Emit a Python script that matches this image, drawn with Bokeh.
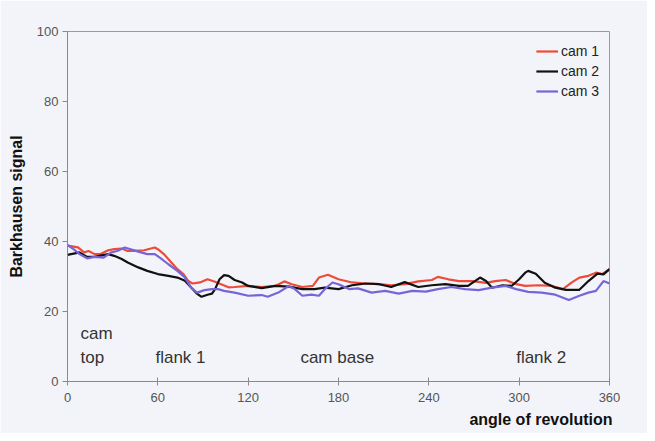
from bokeh.plotting import figure
from bokeh.models import Label, Range1d, FixedTicker, Legend, LegendItem, Title
from bokeh.embed import file_html
from bokeh.resources import INLINE

# ---- data ----
cam1_angle = [0, 7, 11, 14, 18, 22, 27, 31, 36, 40, 44, 51, 58, 60, 64, 69, 73, 77, 80, 83, 88, 93, 98, 102,
              107, 111, 120, 129, 138, 144, 149, 156, 163, 167, 173, 180, 189, 198, 207, 215, 224, 233, 242,
              246, 253, 260, 269, 278, 284, 291, 298, 304, 313, 322, 329, 335, 340, 346, 351, 355, 360]
cam1_value = [38.8, 38.3, 36.9, 37.3, 36.4, 36.4, 37.5, 37.8, 38.0, 37.3, 37.3, 37.5, 38.3, 37.8, 36.4, 34.0,
              32.1, 30.7, 28.8, 28.0, 28.3, 29.2, 28.5, 27.8, 26.9, 27.0, 27.3, 27.0, 27.3, 28.6, 27.8, 27.0,
              27.3, 29.7, 30.5, 29.2, 28.3, 28.0, 27.8, 27.5, 27.8, 28.6, 29.0, 29.9, 29.2, 28.7, 28.7, 28.2,
              28.7, 29.0, 27.8, 27.3, 27.5, 27.3, 26.4, 28.3, 29.7, 30.2, 31.1, 30.7, 32.1]

cam2_angle = [0, 8, 13, 18, 27, 31, 36, 40, 47, 53, 60, 67, 73, 78, 82, 86, 89, 93, 96, 98, 101, 104, 107,
              111, 116, 120, 129, 138, 147, 156, 164, 171, 180, 189, 198, 207, 215, 224, 233, 242, 251, 260,
              266, 274, 278, 282, 289, 295, 300, 304, 306, 311, 317, 324, 331, 340, 346, 352, 356, 360]
cam2_value = [36.2, 36.9, 35.6, 35.6, 36.4, 35.9, 35.0, 34.0, 32.6, 31.6, 30.7, 30.2, 29.7, 28.8, 26.9, 25.1,
              24.2, 24.8, 25.1, 26.4, 29.2, 30.4, 30.2, 29.0, 28.3, 27.3, 26.7, 27.3, 27.1, 26.4, 26.4, 26.8,
              26.4, 27.5, 28.0, 27.8, 27.0, 28.4, 27.0, 27.5, 27.8, 27.3, 27.3, 29.7, 28.7, 26.8, 27.5, 27.3,
              29.2, 31.1, 31.6, 30.8, 28.2, 26.8, 26.2, 26.2, 28.7, 30.8, 30.6, 32.1]

cam3_angle = [0, 4, 8, 13, 18, 24, 29, 33, 38, 42, 47, 53, 58, 62, 67, 73, 78, 82, 86, 91, 96, 100, 104,
              111, 120, 129, 133, 140, 147, 151, 156, 162, 167, 171, 176, 180, 187, 193, 202, 211, 220, 229,
              238, 246, 255, 264, 273, 282, 291, 298, 306, 315, 324, 333, 340, 346, 351, 356, 360]
cam3_value = [39.0, 37.8, 36.4, 35.2, 35.6, 35.4, 36.9, 37.3, 38.3, 37.8, 37.1, 36.4, 36.4, 35.2, 33.5, 31.6,
              29.7, 26.9, 25.4, 26.1, 26.4, 26.4, 25.9, 25.4, 24.5, 24.7, 24.2, 25.4, 27.3, 26.4, 24.5, 24.8,
              24.5, 26.4, 28.3, 27.8, 26.4, 26.6, 25.4, 25.9, 25.1, 25.9, 25.7, 26.4, 27.0, 26.4, 26.1, 26.8,
              27.3, 26.4, 25.6, 25.4, 24.8, 23.3, 24.5, 25.4, 25.9, 28.7, 28.0]

series_names = ["cam 1", "cam 2", "cam 3"]
x_ticks = [0, 60, 120, 180, 240, 300, 360]
y_ticks = [0, 20, 40, 60, 80, 100]

BG = "#f3f4f9"
FONT = "Liberation Sans"

p = figure(width=647, height=433, output_backend="svg", toolbar_location=None,
           x_range=Range1d(0, 360), y_range=Range1d(0, 100),
           min_border_left=67, min_border_right=38, min_border_top=31, min_border_bottom=52,
           background_fill_color=BG, border_fill_color=BG)
p.outline_line_color = "#9a9a9a"
p.xgrid.visible = False
p.ygrid.visible = False

for ax in (p.xaxis[0], p.yaxis[0]):
    ax.axis_line_color = "#8a8a8a"
    ax.major_tick_line_color = "#8a8a8a"
    ax.minor_tick_line_color = None
    ax.major_label_text_font = FONT
    ax.major_label_text_font_size = "13px"
    ax.major_label_text_color = "#555555"

p.xaxis.ticker = FixedTicker(ticks=x_ticks)
p.yaxis.ticker = FixedTicker(ticks=y_ticks)
p.xaxis.major_tick_in = 4
p.xaxis.major_tick_out = 4
p.xaxis.major_label_standoff = 7
p.yaxis.major_tick_in = 0
p.yaxis.major_tick_out = 5
p.yaxis.major_label_standoff = 4

p.yaxis.axis_label = "Barkhausen signal"
p.yaxis.axis_label_text_font = FONT
p.yaxis.axis_label_text_font_style = "bold"
p.yaxis.axis_label_text_font_size = "16px"
p.yaxis.axis_label_text_color = "#111111"
p.yaxis.axis_label_standoff = 9

colors = ["#ee4a38", "#111111", "#7466d8"]
r1 = p.line(cam1_angle, cam1_value, line_color=colors[0], line_width=2.2)
r2 = p.line(cam2_angle, cam2_value, line_color=colors[1], line_width=2.2)
r3 = p.line(cam3_angle, cam3_value, line_color=colors[2], line_width=2.2)

legend = Legend(items=[LegendItem(label=series_names[0], renderers=[r1]),
                       LegendItem(label=series_names[1], renderers=[r2]),
                       LegendItem(label=series_names[2], renderers=[r3])],
                location="top_right")
legend.border_line_color = None
legend.background_fill_alpha = 0
legend.label_text_font = FONT
legend.label_text_font_size = "14px"
legend.label_text_color = "#222222"
legend.glyph_width = 22
legend.glyph_height = 20
legend.label_height = 20
legend.label_standoff = 3
legend.spacing = 0
legend.padding = 0
legend.margin = 10
p.add_layout(legend)

# x axis label, right aligned under the axis end
p.add_layout(Title(text="angle of revolution", align="right", text_font=FONT,
                   text_font_style="bold", text_font_size="16px", text_color="#111111",
                   standoff=8, offset=-3), "below")

# region labels
for tx, ty, t in [(8.6, 13.7, "cam"), (8.6, 6.9, "top"), (58.4, 6.9, "flank 1"),
                  (154.7, 6.9, "cam base"), (298, 6.9, "flank 2")]:
    p.add_layout(Label(x=tx, y=ty, text=t, text_align="left", text_baseline="middle",
                       text_font=FONT, text_font_size="17px", text_color="#333333"))

open("out.html", "w").write(file_html(p, INLINE))
